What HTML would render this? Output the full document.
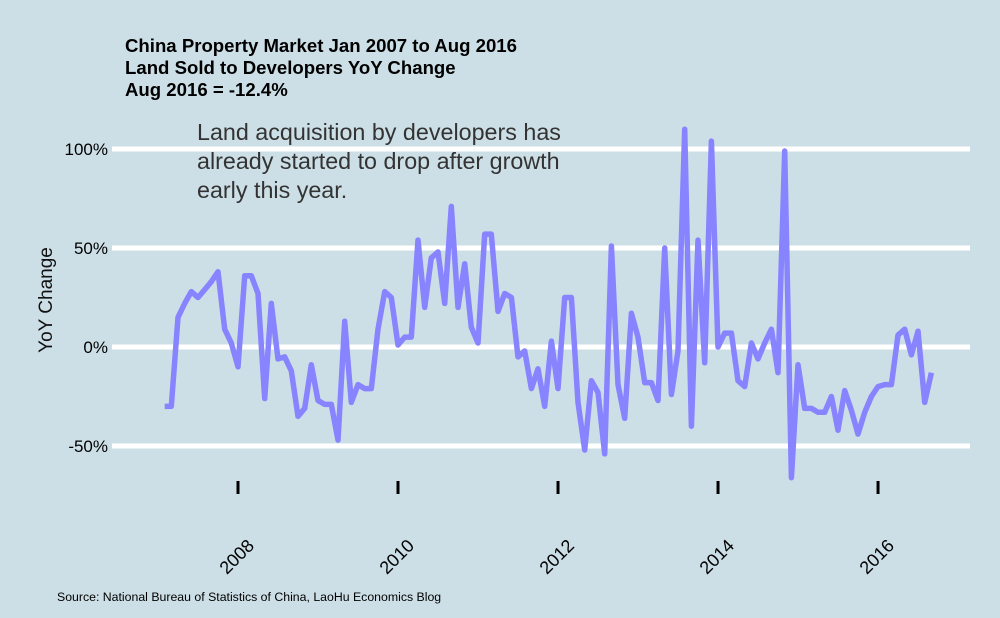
<!DOCTYPE html>
<html><head><meta charset="utf-8"><style>
body{margin:0;background:#cddfe6;}
svg{display:block;font-family:"Liberation Sans",Arial,sans-serif;}
</style></head><body>
<svg id="chart" width="1000" height="618" viewBox="0 0 1000 618">
<rect width="1000" height="618" fill="#cddfe6"/>
<g font-weight="bold" font-size="18.6" fill="#000">
<text x="125" y="52">China Property Market Jan 2007 to Aug 2016</text>
<text x="125" y="74">Land Sold to Developers YoY Change</text>
<text x="125" y="96">Aug 2016 = -12.4%</text>
</g>
<g id="grid"></g>
<g id="yticks"></g>
<text transform="translate(52,300) rotate(-90)" text-anchor="middle" font-size="19" fill="#111">YoY Change</text>
<g id="xticks"></g>
<path id="line" fill="none" stroke="#8883ff" stroke-width="5.5" stroke-linejoin="round"/>
<g font-size="23.3" fill="#333">
<text x="197" y="140">Land acquisition by developers has</text>
<text x="197" y="169">already started to drop after growth</text>
<text x="197" y="198">early this year.</text>
</g>
<text x="57" y="601" font-size="12.3" fill="#000">Source: National Bureau of Statistics of China, LaoHu Economics Blog</text>
</svg>
<script>
const months = Array.from({length:116},(_,i)=>i+1);
const values = [-30,-30,15,22,28,25,29,33,38,9,2,-10,36,36,27,-26,22,-6,-5,-12,-35,-31,-9,-27,-29,-29,-47,13,-28,-19,-21,-21,9,28,25,1,5,5,54,20,45,48,22,71,20,42,10,2,57,57,18,27,25,-5,-2,-21,-11,-30,3,-21,25,25,-28,-52,-17,-23,-54,51,-19,-36,17,5,-18,-18,-27,50,-24,-2,110,-40,54,-8,104,0,7,7,-17,-20,2,-6,2,9,-13,99,-66,-9,-31,-31,-33,-33,-25,-42,-22,-32,-44,-33,-25,-20,-19,-19,6,9,-4,8,-28,-13];
const yTickVals = [-50,0,50,100];
const yTickLabels = ["-50%","0%","50%","100%"];
const xTickYears = [2008,2010,2012,2014,2016];
const ns="http://www.w3.org/2000/svg";
const xS = m => 158 + m*6.667;
const yS = v => 347 - v*1.98;
const grid=document.getElementById('grid'), yt=document.getElementById('yticks'), xt=document.getElementById('xticks');
yTickVals.forEach((v,i)=>{
  const l=document.createElementNS(ns,'line');
  l.setAttribute('x1',112);l.setAttribute('x2',970);
  l.setAttribute('y1',yS(v));l.setAttribute('y2',yS(v));
  l.setAttribute('stroke','#fff');l.setAttribute('stroke-width',5);
  
  
  grid.appendChild(l);
  const t=document.createElementNS(ns,'text');
  t.setAttribute('x',108);t.setAttribute('y',yS(v)+6);
  t.setAttribute('text-anchor','end');t.setAttribute('font-size',17);t.textContent=yTickLabels[i];
  
  
  yt.appendChild(t);
});
xTickYears.forEach(y=>{
  const m=(y-2007)*12, x=xS(m);
  const l=document.createElementNS(ns,'line');
  l.setAttribute('x1',x);l.setAttribute('x2',x);l.setAttribute('y1',481);l.setAttribute('y2',494);
  l.setAttribute('stroke','#000');l.setAttribute('stroke-width',3);
  
  
  xt.appendChild(l);
  const t=document.createElementNS(ns,'text');
  t.setAttribute('transform',`translate(${x+3},${561}) rotate(-45)`);
  t.setAttribute('text-anchor','middle');t.setAttribute('font-size',18);t.textContent=y;
  
  
  xt.appendChild(t);
});
document.getElementById('line').setAttribute('d',values.map((v,i)=>(i?'L':'M')+xS(months[i]).toFixed(1)+','+yS(v).toFixed(1)).join(''));
</script>
</body></html>
